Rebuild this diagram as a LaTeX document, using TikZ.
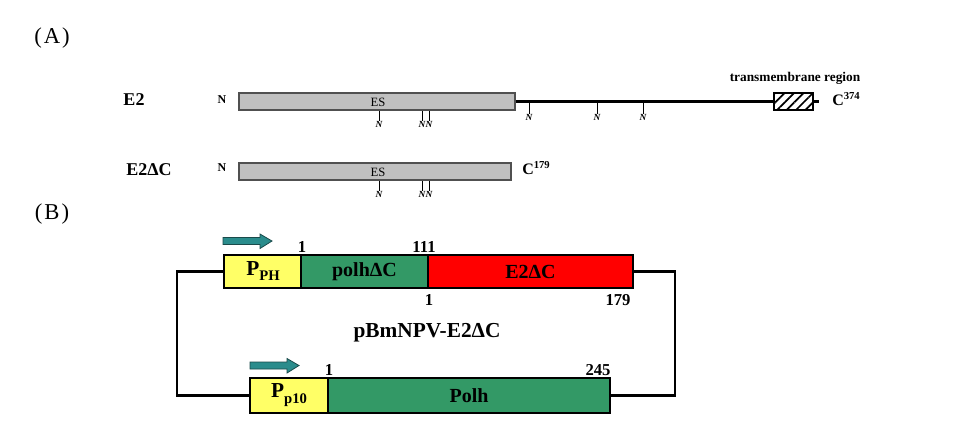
\documentclass[tikz,border=0pt]{standalone}
\usepackage{fontspec}
\setmainfont{Liberation Serif}
\usetikzlibrary{fit,patterns.meta}
\definecolor{bargray}{HTML}{C0C0C0}
\definecolor{barline}{HTML}{505050}
\definecolor{pyellow}{HTML}{FFFF66}
\definecolor{pgreen}{HTML}{339966}
\definecolor{pred}{HTML}{FF0000}
\definecolor{parrow}{HTML}{2A8C8C}
\definecolor{parrowline}{HTML}{1A4A4A}
\begin{document}
\begin{tikzpicture}[x=0.75pt,y=-0.75pt,
  panel/.style={inner sep=0,font=\fontsize{17}{17}\selectfont},
  lbl/.style={inner sep=0,font=\bfseries\fontsize{13.5}{13.5}\selectfont},
  nlbl/.style={inner sep=0,font=\bfseries\fontsize{9}{9}\selectfont},
  esl/.style={inner sep=0,font=\fontsize{9.5}{9.5}\selectfont},
  cl/.style={inner sep=0,font=\bfseries\fontsize{12}{12}\selectfont},
  tml/.style={inner sep=0,font=\bfseries\fontsize{10}{10}\selectfont},
  glyn/.style={inner sep=0,font=\bfseries\itshape\fontsize{7}{7}\selectfont},
  tick/.style={line width=0.7pt},
  bar/.style={draw=barline,fill=bargray,line width=0.8pt,inner sep=0},
  hatchbox/.style={draw=black,line width=0.9pt,inner sep=0,
     pattern={Lines[angle=45,distance=5pt,line width=1.3pt]}},
  chain/.style={line width=2pt},
  gbox/.style={draw=black,line width=2pt,inner sep=0},
  boxtxt/.style={inner sep=0,font=\bfseries\fontsize{15}{15}\selectfont},
  num/.style={inner sep=0,font=\bfseries\fontsize{12.5}{12.5}\selectfont},
  titl/.style={inner sep=0,font=\bfseries\fontsize{16}{16}\selectfont},
  conn/.style={line width=1.6pt},
  blockarrow/.style={fill=parrow,draw=parrowline,line width=0.6pt}
]
\useasboundingbox (0,0) rectangle (961,444);

% ---------- (A) ----------
\node[panel] (labA) at (52,38) {(\hspace{1.5pt}A\hspace{1.5pt})};

% E2
\node[lbl] (e2) at (134,100) {E2};
\node[nlbl] (n1) at (222,100) {N};
\node[bar,fit={(239,93)(515,110)}] (bar1) {};
\node[esl] (es1) at (378,102) {ES};
\node[hatchbox,fit={(774,93)(813,110)}] (tm) {};
\coordinate (cend) at (819,101.5);
\draw[chain] (bar1.east) -- (tm.west);
\draw[chain] (tm.east) -- (cend);
\node[cl,anchor=west] (c374) at (832,99) {C\textsuperscript{374}};
\node[tml] (tmr) at (795,78) {transmembrane region};

% glycosylation sites E2
\node[glyn] (g11) at (379,124) {N};
\node[glyn] (g12) at (422,124) {N};
\node[glyn] (g13) at (429,124) {N};
\node[glyn] (g14) at (529,117) {N};
\node[glyn] (g15) at (597,117) {N};
\node[glyn] (g16) at (643,117) {N};
\foreach \g in {g11,g12,g13}{\draw[tick] (\g.north) -- (\g.north |- bar1.south);}
\foreach \g in {g14,g15,g16}{\draw[tick] (\g.north) -- (\g.north |- bar1.east);}

% E2 delta C
\node[lbl] (e2dc) at (149,170) {E2ΔC};
\node[nlbl] (n2) at (222,168) {N};
\node[bar,fit={(239,163)(511,180)}] (bar2) {};
\node[esl] (es2) at (378,172) {ES};
\node[cl,anchor=west] (c179) at (522,168) {C\textsuperscript{179}};
\node[glyn] (g21) at (379,194) {N};
\node[glyn] (g22) at (422,194) {N};
\node[glyn] (g23) at (429,194) {N};
\foreach \g in {g21,g22,g23}{\draw[tick] (\g.north) -- (\g.north |- bar2.south);}

% ---------- (B) ----------
\node[panel] (labB) at (52,214) {(\hspace{1.5pt}B\hspace{1.5pt})};

% upper cassette
\draw[blockarrow] (223,237.5) -- (260,237.5) -- (260,234) -- (272,241) -- (260,248.5) -- (260,244.5) -- (223,244.5) -- cycle;
\node[gbox,fill=pyellow,fit={(224,255)(301,288)}] (pph) {};
\node[gbox,fill=pgreen,fit={(301,255)(428,288)}] (polhdc) {};
\node[gbox,fill=pred,fit={(428,255)(633,288)}] (e2box) {};
\node[boxtxt,font=\bfseries\fontsize{16}{16}\selectfont] (pphT) at (263,271) {P\raisebox{-4pt}{\fontsize{11}{11}\selectfont PH}};
\node[boxtxt] (polhdcT) at (polhdc.center) {polhΔC};
\node[boxtxt] (e2boxT) at (e2box.center) {E2ΔC};
\node[num] (t1) at (302,247) {1};
\node[num] (t111) at (424,247) {111};
\node[num] (b1) at (429,300) {1};
\node[num] (b179) at (618,300) {179};

\node[titl] (title) at (427,333) {pBmNPV-E2ΔC};

% lower cassette
\draw[blockarrow] (250,362) -- (287,362) -- (287,358.5) -- (299,365.5) -- (287,373) -- (287,369) -- (250,369) -- cycle;
\node[gbox,fill=pyellow,fit={(250,378)(328,413)}] (pp10) {};
\node[gbox,fill=pgreen,fit={(328,378)(610,413)}] (polh) {};
\node[boxtxt,font=\bfseries\fontsize{16}{16}\selectfont] (pp10T) at (289,395) {P\raisebox{-4pt}{\fontsize{11}{11}\selectfont p10}};
\node[boxtxt] (polhT) at (polh.center) {Polh};
\node[num] (u1) at (329,370) {1};
\node[num] (u245) at (598,370) {245};

% circular vector connections
\coordinate (lc) at (177,330);
\coordinate (rc) at (675,330);
\draw[conn] (pph.west) -| (lc |- pp10.west) -- (pp10.west);
\draw[conn] (e2box.east) -| (rc |- polh.east) -- (polh.east);
\end{tikzpicture}
\end{document}
